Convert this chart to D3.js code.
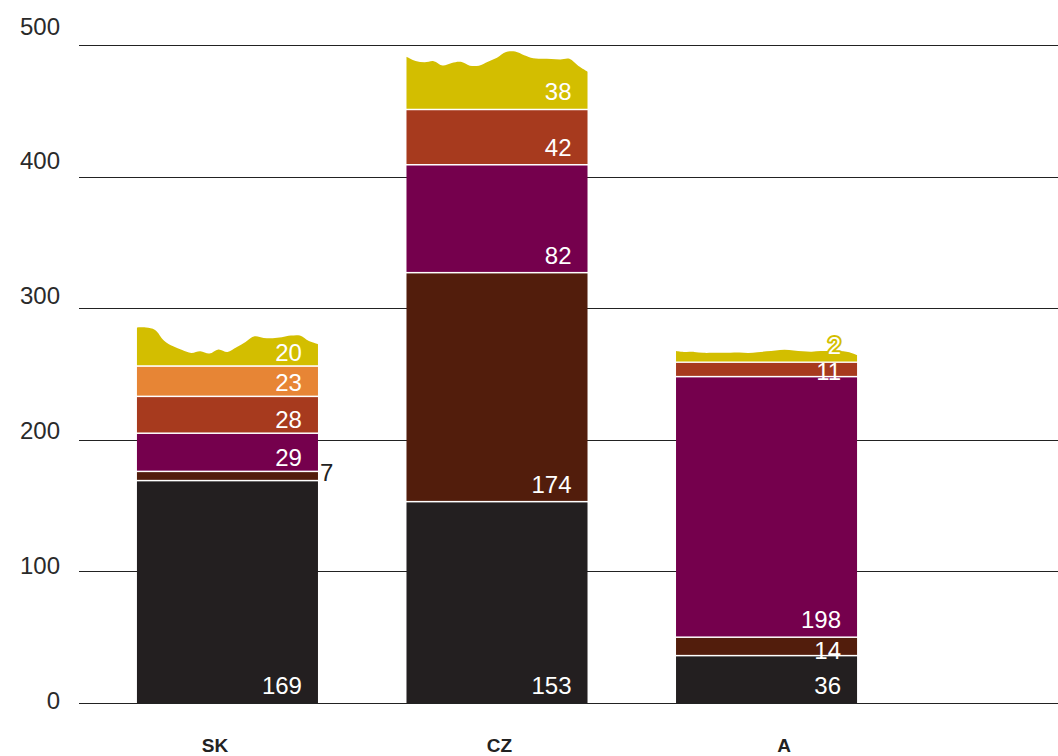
<!DOCTYPE html>
<html>
<head>
<meta charset="utf-8">
<script src="https://cdn.jsdelivr.net/npm/d3@7/dist/d3.min.js"></script>
<style>
  html, body { margin: 0; padding: 0; background: #fff; }
  svg { display: block; }
</style>
</head>
<body>
<svg id="chart" width="1058" height="756"></svg>
<script>
// Categories and stacked series values (bottom to top)
const categories = ["SK", "CZ", "A"];
const seriesKeys = ["s1", "s2", "s3", "s4", "s5", "s6"];
const s1 = [169, 153, 36];
const s2 = [7, 174, 14];
const s3 = [29, 82, 198];
const s4 = [28, 42, 11];
const s5 = [23, 0, 0];
const s6 = [20, 38, 2];
const seriesColors = ["#231f20", "#521d0c", "#75004d", "#a73a1e", "#e78535", "#d3be00"];

// Ragged top edge of the uppermost segment, offsets in value units, evenly spaced across the bar
const waveSK = [9.3, 9.3, 7.5, -0.7, -5, -7.8, -10, -8.7, -10.5, -7.3, -9.2, -5.7, -1.6, 2.6, 1.4, 1.2, 1.9, 3.2, 3.2, -1, -3.4];
const waveCZ = [2.1, -1.1, -2.2, -1.3, -4.6, -2.6, -1.8, -4.7, -4.7, -1.7, 1.3, 5.6, 6.0, 3.2, 0.9, 0.6, 0.4, 0, 0.5, -5, -9.3];
const waveA = [6.5, 5.7, 5.8, 5.1, 5.1, 5.2, 5.2, 5.3, 5.0, 5.5, 6.2, 6.9, 7.4, 6.8, 6.2, 6.0, 6.4, 6.5, 6.5, 5.7, 3.4];

const yTicks = [0, 100, 200, 300, 400, 500];

const seriesValues = [s1, s2, s3, s4, s5, s6];
const waves = [waveSK, waveCZ, waveA];

const rows = categories.map((c, i) => {
  const r = { cat: c };
  seriesKeys.forEach((k, j) => { r[k] = seriesValues[j][i]; });
  return r;
});

const svg = d3.select("#chart");
const gridLeft = 79, gridRight = 1058;

const y = d3.scaleLinear().domain([0, 500]).range([703, 45]);
const x = d3.scaleBand().domain(categories).range([79, 915]).paddingInner(0.3284).paddingOuter(0.215);

// Text layer scales
const yLabel = d3.scaleLinear().domain([0, 500]).range([700, 26]);
const xLabel = d3.scalePoint().domain(categories).range([215, 784]);

// Gridlines
svg.append("g").selectAll("line").data(yTicks).join("line")
  .attr("x1", gridLeft).attr("x2", gridRight)
  .attr("y1", d => Math.round(y(d)) + 0.5).attr("y2", d => Math.round(y(d)) + 0.5)
  .attr("stroke", "#222").attr("stroke-width", 1);

// Y tick labels
svg.append("g").selectAll("text").data(yTicks).join("text")
  .attr("x", 60).attr("y", d => yLabel(d))
  .attr("text-anchor", "end").attr("dominant-baseline", "central")
  .attr("font-family", "'Liberation Sans', Arial, Helvetica, sans-serif")
  .attr("font-size", 24).attr("fill", "#2a2a2a")
  .text(d => d);

// Stacks
const stack = d3.stack().keys(seriesKeys);
const stacked = stack(rows);
const topIndex = seriesKeys.length - 1;

const barsG = svg.append("g");
stacked.forEach((layer, li) => {
  layer.forEach((seg, ci) => {
    const v = seg[1] - seg[0];
    if (v <= 0) return;
    const x0 = x(categories[ci]);
    const w = x.bandwidth();
    if (li === topIndex) {
      const wave = waves[ci];
      const n = wave.length - 1;
      const pts = wave.map((o, k) => [x0 + w * k / n, y(seg[1] + o)]);
      const line = d3.line().curve(d3.curveCatmullRom.alpha(0.5));
      const d = line(pts) + `L${x0 + w},${y(seg[0]) - 0.75}L${x0},${y(seg[0]) - 0.75}Z`;
      barsG.append("path").attr("d", d).attr("fill", seriesColors[li]);
    } else {
      const yTop = y(seg[1]);
      const yBot = y(seg[0]);
      barsG.append("rect")
        .attr("x", x0).attr("width", w)
        .attr("y", yTop + 0.75)
        .attr("height", Math.max(0, yBot - yTop - (li === 0 ? 0.75 : 1.5)))
        .attr("fill", seriesColors[li]);
    }
  });
});

// Value labels: placed near the bottom of each segment
const labelsG = svg.append("g")
  .attr("font-family", "'Liberation Sans', Arial, Helvetica, sans-serif")
  .attr("font-size", 24);
stacked.forEach((layer, li) => {
  layer.forEach((seg, ci) => {
    const v = seg[1] - seg[0];
    if (v <= 0) return;
    const x0 = x(categories[ci]);
    const w = x.bandwidth();
    const yBot = y(seg[0]);
    const hPx = yBot - y(seg[1]);
    if (hPx < 12 && li !== topIndex) {
      // too thin: label sits beside the bar
      labelsG.append("text")
        .attr("x", x0 + w + 2).attr("y", yBot)
        .attr("fill", "#222")
        .text(v);
      return;
    }
    const offset = hPx > 45 ? -9 : (hPx >= 24 ? -5 : (hPx >= 12 ? 3 : -8));
    const t = labelsG.append("text")
      .attr("x", x0 + w - 16).attr("y", yBot + offset)
      .attr("text-anchor", "end")
      .attr("fill", "#fff")
      .text(v);
    if (hPx < 12) {
      t.attr("stroke", seriesColors[li]).attr("stroke-width", 4)
        .attr("paint-order", "stroke").attr("stroke-linejoin", "round");
    }
  });
});

// Category labels
svg.append("g").selectAll("text").data(categories).join("text")
  .attr("x", d => xLabel(d)).attr("y", 752)
  .attr("text-anchor", "middle")
  .attr("font-family", "'Liberation Sans Narrow', 'Arial Narrow', 'Liberation Sans', sans-serif")
  .attr("font-weight", "bold").attr("font-size", 19)
  .attr("fill", "#222")
  .text(d => d);
</script>
</body>
</html>
